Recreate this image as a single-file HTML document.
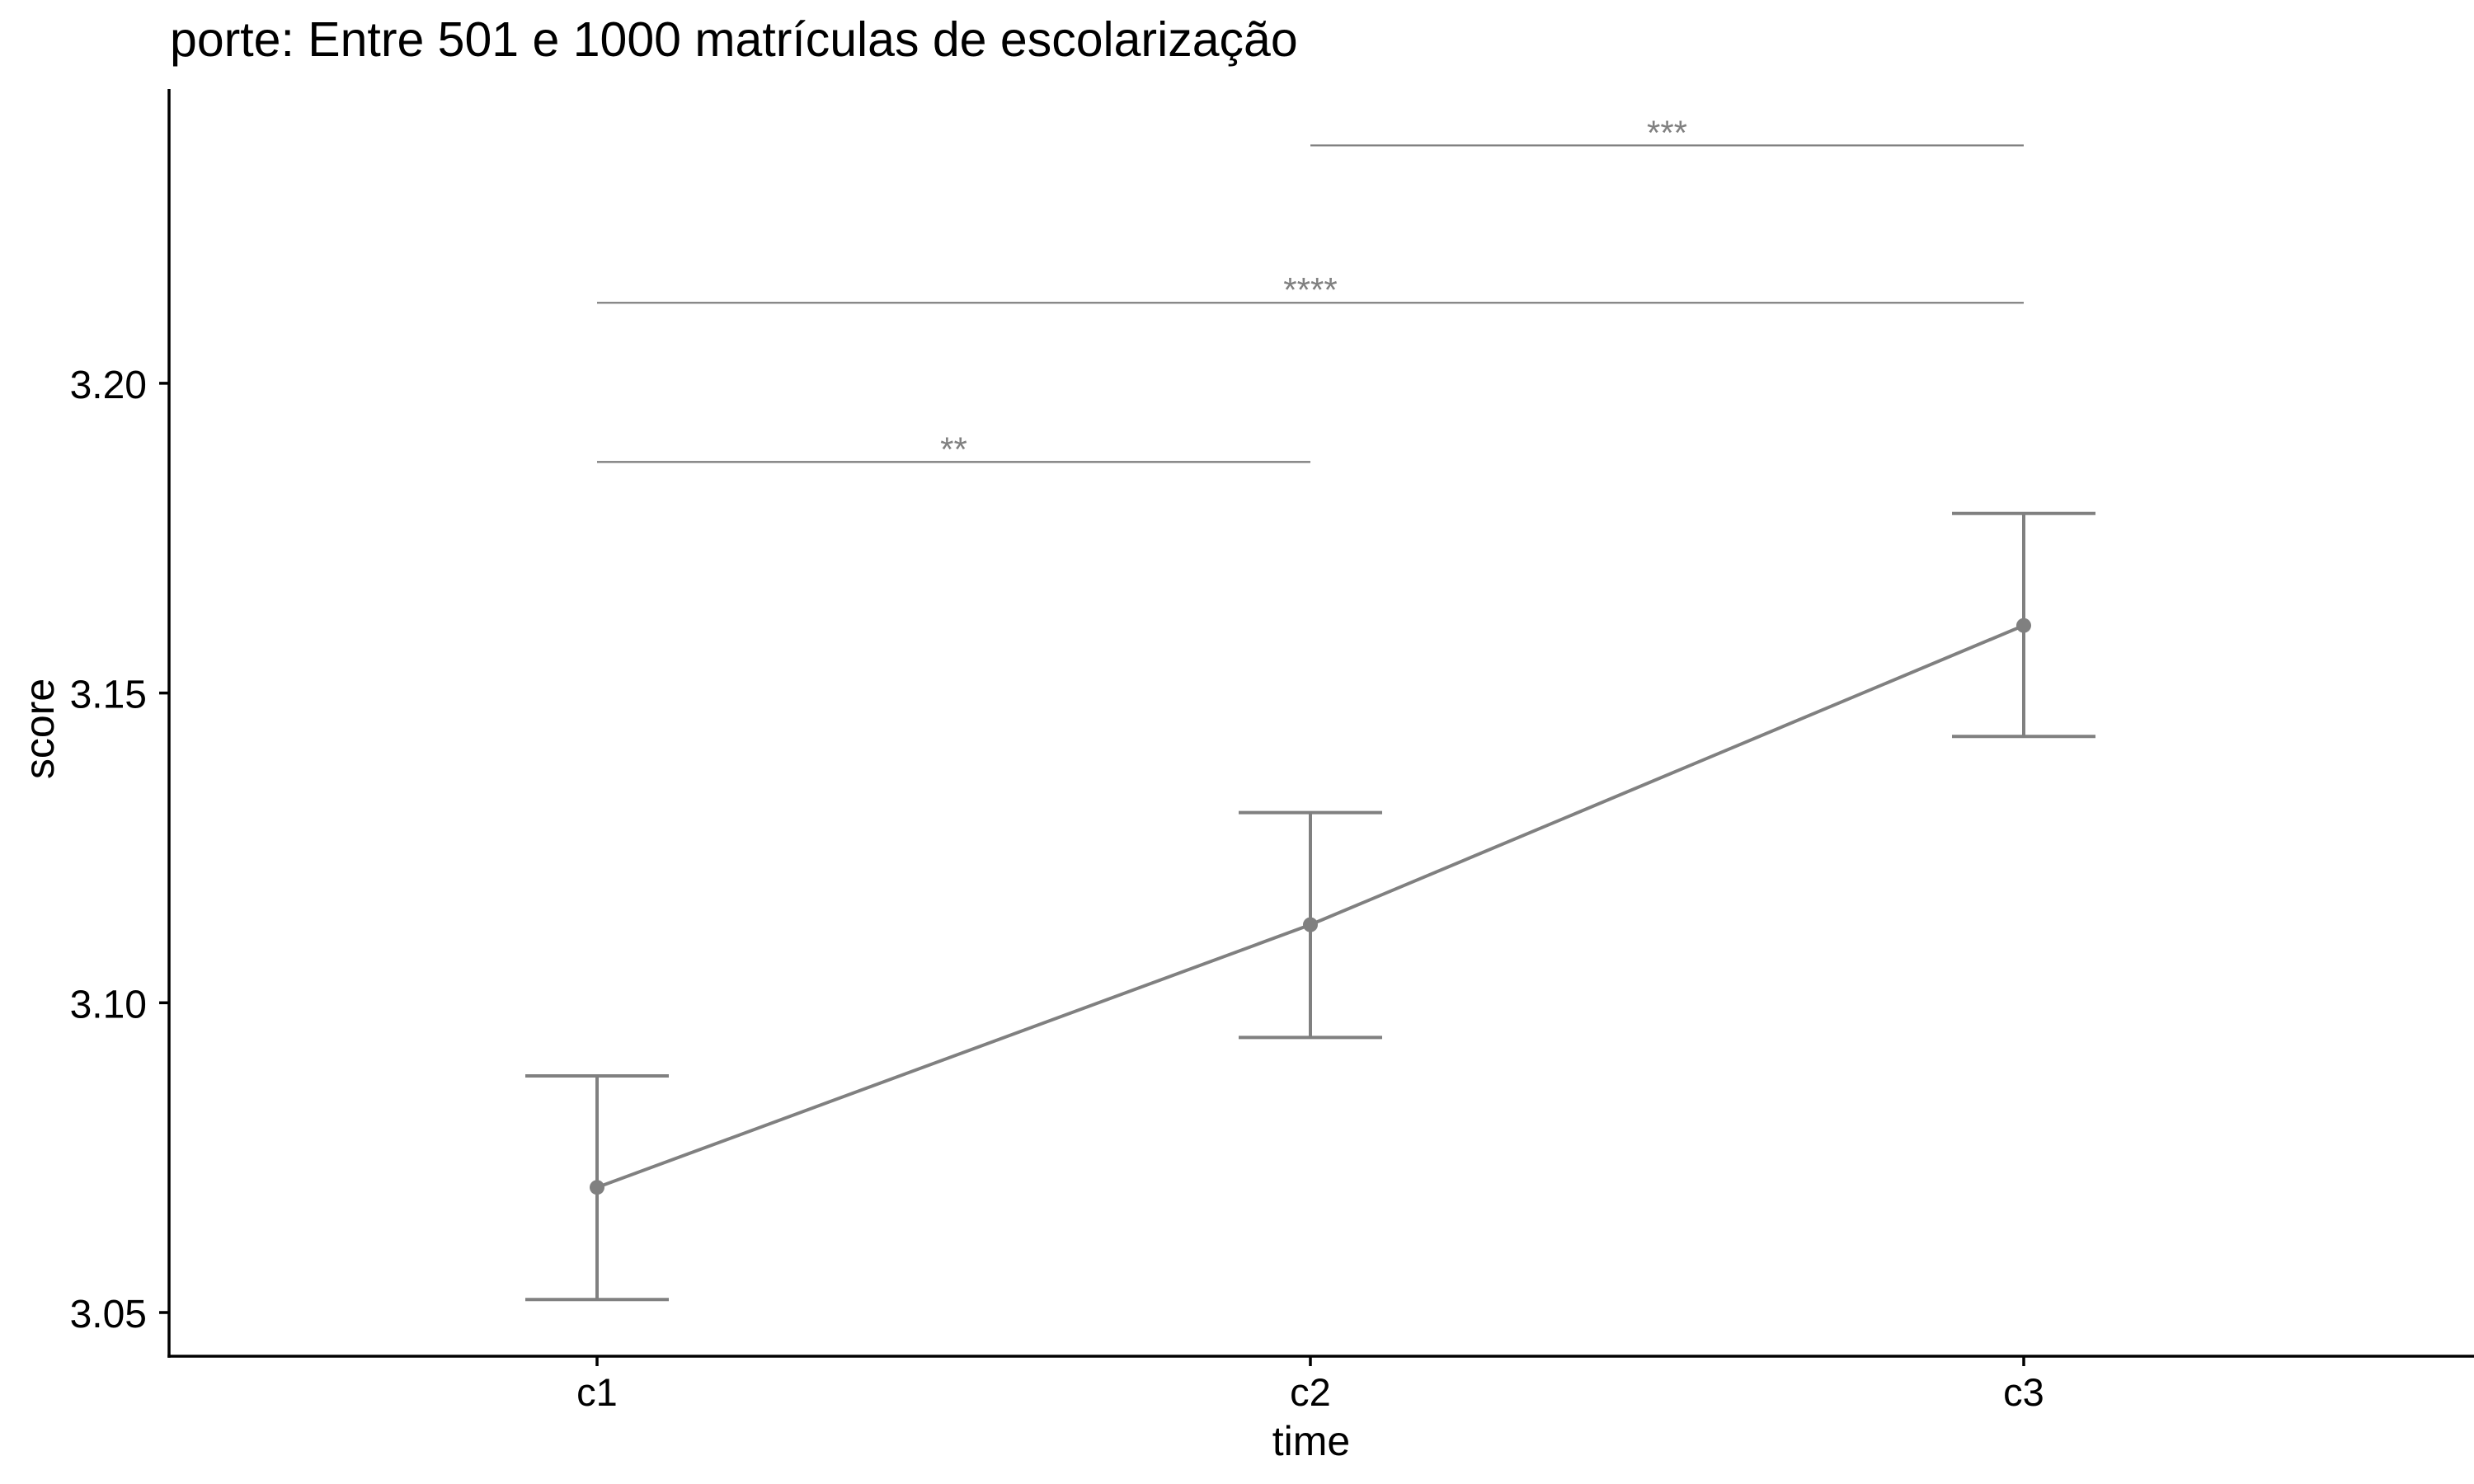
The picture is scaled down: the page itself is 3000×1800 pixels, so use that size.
<!DOCTYPE html>
<html><head><meta charset="utf-8"><style>
html,body{margin:0;padding:0;background:#fff;}
svg{display:block;font-family:"Liberation Sans",Arial,sans-serif;}
</style></head><body>
<svg id="chart" width="3000" height="1800" viewBox="0 0 3000 1800">
<text x="206" y="68" font-size="59" fill="#000">porte: Entre 501 e 1000 matrículas de escolarização</text>
<g id="plot"></g>
</svg>
<script>
const categories = ["c1","c2","c3"];
const means = [3.0702, 3.1126, 3.1609];
const upper = [3.0882, 3.1307, 3.1790];
const lower = [3.0521, 3.0944, 3.1430];
const yTicks = [3.05, 3.10, 3.15, 3.20];
const yTickLabels = ["3.05","3.10","3.15","3.20"];
const bracketFrom = [0, 0, 1];
const bracketTo = [1, 2, 2];
const bracketY = [3.1873, 3.2130, 3.2384];
const bracketLabels = ["**","****","***"];

const NS="http://www.w3.org/2000/svg";
const g=document.getElementById('plot');
const X0=205, Y0=1645, TOP=108, RIGHT=3000;
const xFirst=724, xLast=2454;
function x(i){return xFirst+i*(xLast-xFirst)/(categories.length-1);}
function y(v){return 1592-(v-3.05)/0.05*375.7;}
function mk(tag,attrs){const e=document.createElementNS(NS,tag);for(const k in attrs)e.setAttribute(k,attrs[k]);g.appendChild(e);return e;}

let e=mk('line',{x1:X0,y1:TOP,x2:X0,y2:Y0+1.75,stroke:'#000','stroke-width':3.5});


e=mk('line',{x1:X0-1.75,y1:Y0,x2:RIGHT,y2:Y0,stroke:'#000','stroke-width':3.5});



yTicks.forEach((t,i)=>{
  const t1=mk('line',{x1:X0-12,y1:y(t),x2:X0,y2:y(t),stroke:'#000','stroke-width':3.5});
  
  
  const tx=mk('text',{x:X0-27,y:y(t)+18,'font-size':48,'text-anchor':'end',fill:'#000'});
  tx.textContent=yTickLabels[i];
  
  
});
categories.forEach((c,i)=>{
  const t1=mk('line',{x1:x(i),y1:Y0,x2:x(i),y2:Y0+12,stroke:'#000','stroke-width':3.5});
  
  
  const tx=mk('text',{x:x(i),y:1705,'font-size':47,'text-anchor':'middle',fill:'#000'});
  tx.textContent=c;
  
  
});
let lab=mk('text',{x:1590,y:1765,'font-size':50,'text-anchor':'middle',fill:'#000'});
lab.textContent='time';


lab=mk('text',{x:0,y:0,'font-size':50,'text-anchor':'middle',fill:'#000',transform:'translate(65,884) rotate(-90)'});
lab.textContent='score';



const pts=means.map((m,i)=>x(i)+','+y(m)).join(' ');
e=mk('polyline',{points:pts,fill:'none',stroke:'#808080','stroke-width':4});


means.forEach((m,i)=>{
  const eb=mk('path',{d:`M${x(i)-87},${y(upper[i])}H${x(i)+87}M${x(i)},${y(upper[i])}V${y(lower[i])}M${x(i)-87},${y(lower[i])}H${x(i)+87}`,fill:'none',stroke:'#808080','stroke-width':4});
  
  
  const p=mk('circle',{cx:x(i),cy:y(m),r:9,fill:'#808080'});
  
  
});
bracketY.forEach((b,i)=>{
  const l=mk('line',{x1:x(bracketFrom[i]),y1:y(b),x2:x(bracketTo[i]),y2:y(b),stroke:'#808080','stroke-width':2.3});
  
  
  const t=mk('text',{x:(x(bracketFrom[i])+x(bracketTo[i]))/2,y:y(b)-1,'font-size':42,'text-anchor':'middle',fill:'#808080'});
  t.textContent=bracketLabels[i];
  
  
});
</script>
</body></html>
